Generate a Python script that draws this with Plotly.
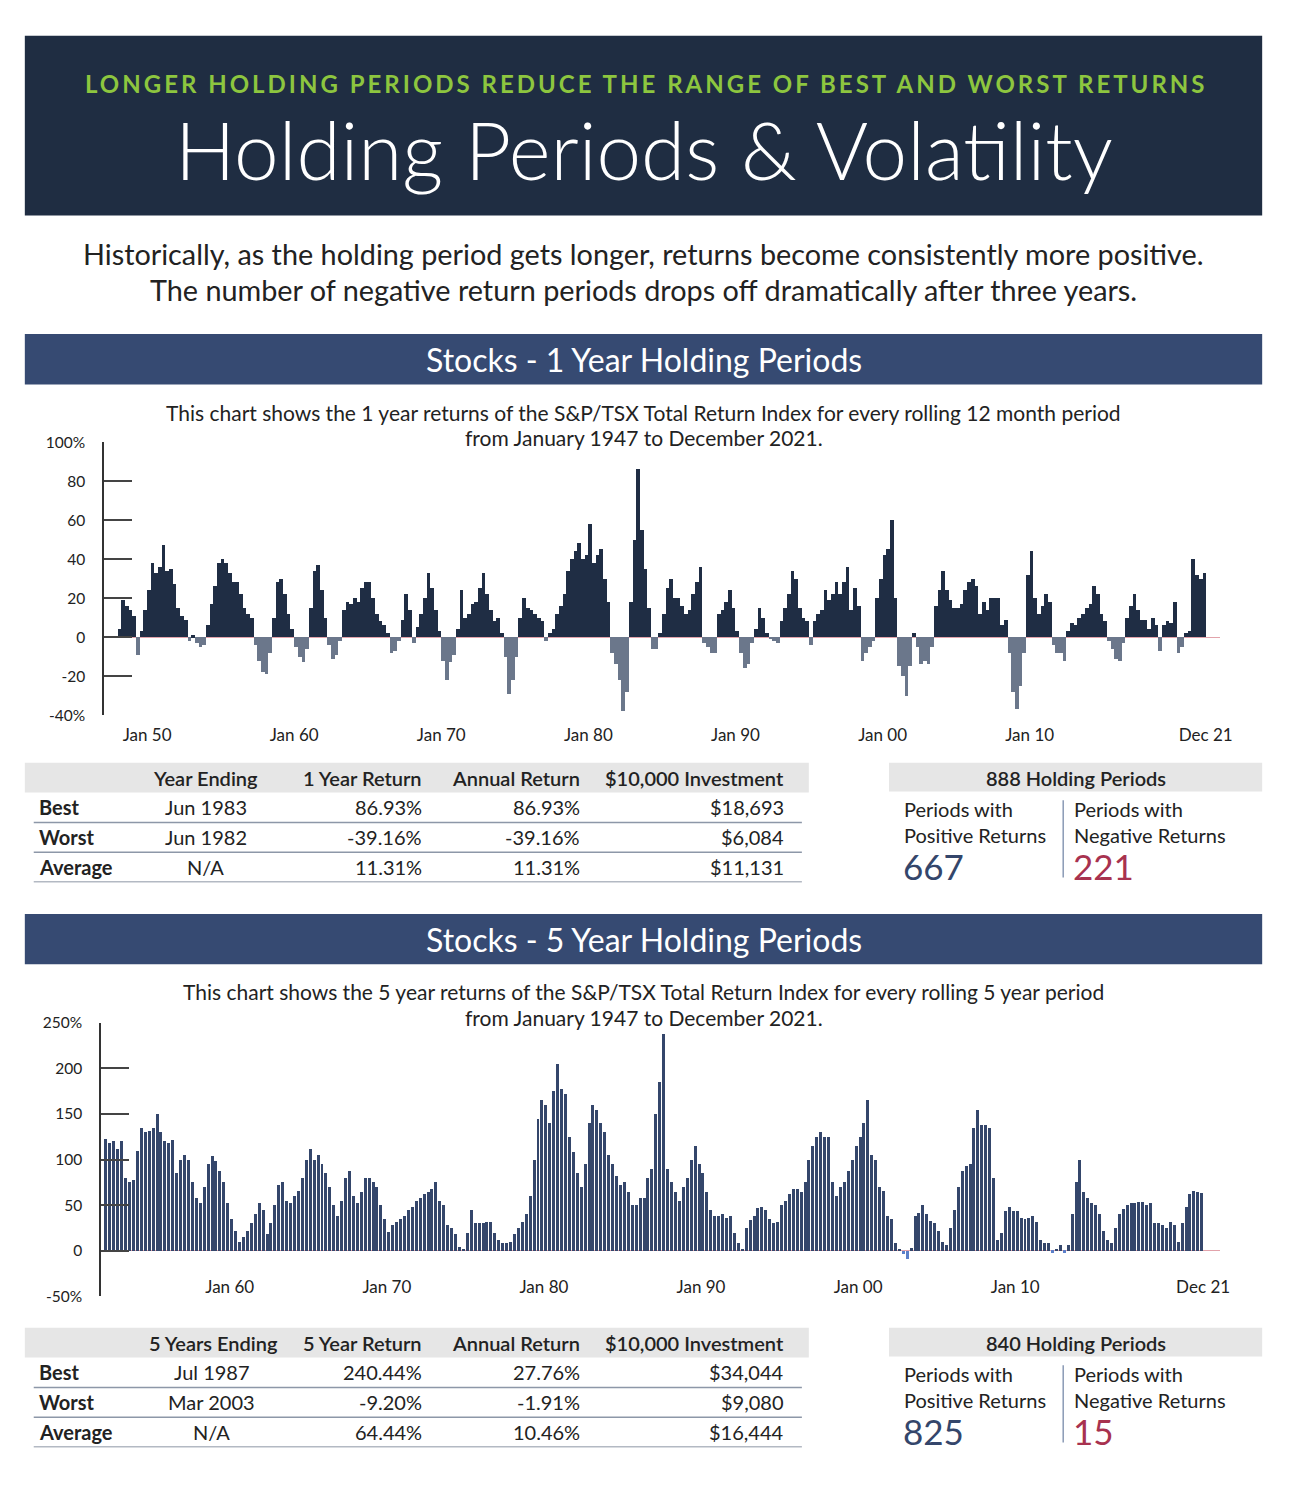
import plotly.graph_objects as go

# page offset (default body margin) and figure size so that the page is 1300x1490
OX, OY = 8, 8
FW, FH = 1284, 1474

# ---------------- data (quarterly readings from the reference) ----------------
first_year_1y = 1948
returns_1y = [
    4, 19, 16, 14,   11, -9, 3, 14,     24, 38, 33, 36,    47, 34, 35, 27,    15, 11, 9, -2,
    1, -3, -5, -4,   6, 17, 26, 38,     40, 38, 33, 28,    28, 22, 15, 12,    10, -4, -12, -18,
    -19, -8, 10, 28, 30, 22, 12, 4,     -5, -10, -13, -6,  15, 34, 37, 24,    10, -4, -11, -9,
    -2, 14, 18, 17,  20, 18, 25, 28,    28, 20, 12, 8,     6, 2, -8, -7,      -2, 9, 22, 14,
    -3, 5, 12, 20,   33, 25, 14, 3,     -12, -22, -13, -9, 4, 24, 10, 12,     17, 18, 25, 33,
    22, 14, 8, 10,   2, -10, -29, -22,  -10, 10, 20, 15,   14, 12, 10, 8,     -2, 2, 4, 12,
    16, 22, 34, 40,  44, 48, 40, 42,    58, 38, 42, 45,    30, 18, -8, -14,   -22, -38, -28, 18,
    50, 86, 55, 35,  15, -6, -6, 2,     12, 25, 30, 20,    20, 16, 12, 14,    22, 28, 36, -3,
    -5, -8, -8, 12,  14, 18, 24, 15,    3, -8, -16, -14,   -3, 4, 15, 10,     2, -1, -2, -3,
    8, 15, 22, 34,   30, 15, 10, 8,     -4, 8, 12, 14,     24, 19, 22, 28,    22, 28, 36, 14,
    25, 16, -12, -8, -5, -2, 20, 30,    42, 45, 60, 20,    -15, -20, -30, -15, 2, -5, -14, -12,
    -14, -5, 16, 24, 34, 24, 19, 15,    15, 17, 24, 28,    30, 26, 12, 18,    14, 20, 20, 20,
    6, 9, -8, -28,   -37, -25, -8, 32,  44, 20, 12, 16,    22, 18, -4, -8,    -8, -12, 3, 7,
    6, 10, 12, 15,   17, 26, 22, 12,    8, -2, -6, -11,    -12, -3, 10, 16,   22, 14, 9, 9,
    4, 10, 6, -7,    6, 8, 7, 18,       -8, -5, 2, 3,      40, 32, 30, 33,
]

first_year_5y = 1952
returns_5y = [
    123, 118, 120, 112,  120, 80, 75, 78,     110, 135, 130, 132,  135, 150, 130, 120,  118, 122, 85, 100,
    105, 100, 75, 58,    52, 70, 95, 104,     98, 88, 75, 52,      35, 22, 10, 15,      22, 30, 40, 52,
    45, 18, 30, 50,      72, 75, 55, 52,      60, 66, 80, 100,     112, 100, 105, 95,   85, 70, 50, 38,
    55, 80, 88, 60,      52, 65, 80, 80,      76, 70, 50, 35,      21, 28, 32, 35,      38, 45, 48, 55,
    58, 62, 65, 68,      75, 55, 50, 28,      25, 18, 4, 2,        19, 45, 30, 30,      30, 32, 32, 20,
    12, 9, 8, 10,        18, 25, 32, 40,      60, 100, 145, 165,   160, 140, 175, 205,  178, 172, 125, 108,
    85, 70, 95, 140,     160, 155, 140, 130,  105, 95, 82, 72,     75, 65, 50, 50,      58, 58, 80, 90,
    150, 185, 238, 90,   75, 65, 55, 70,      80, 100, 115, 95,    85, 65, 45, 38,      38, 40, 36, 38,
    20, 8, 2, 25,        34, 38, 47, 48,      45, 35, 30, 32,      50, 55, 62, 68,      68, 65, 75, 100,
    115, 125, 130, 125,  125, 75, 60, 70,     75, 88, 100, 115,    125, 140, 165, 105,  100, 70, 66, 38,
    35, 8, 1, -4,        -9, 3, 38, 42,       50, 40, 33, 30,      22, 10, 6, 25,       45, 70, 88, 93,
    95, 135, 155, 138,   138, 135, 80, 12,    20, 44, 48, 44,      44, 36, 35, 36,      38, 32, 12, 9,
    8, -2, 2, 6,         -2, 6, 40, 75,       100, 65, 58, 52,     50, 40, 22, 12,      8, 25, 40, 46,
    50, 52, 52, 54,      53, 50, 52, 30,      30, 28, 25, 32,      28, 10, 30, 48,      62, 66, 64, 63,
]

xtick_vals_1y = [1950, 1960, 1970, 1980, 1990, 2000, 2010, 2021.96]
xtick_text_1y = ["Jan 50", "Jan 60", "Jan 70", "Jan 80", "Jan 90", "Jan 00", "Jan 10", "Dec 21"]
ytick_vals_1y = [-40, -20, 0, 20, 40, 60, 80, 100]
ytick_text_1y = ["-40%", "-20", "0", "20", "40", "60", "80", "100%"]

xtick_vals_5y = [1960, 1970, 1980, 1990, 2000, 2010, 2021.96]
xtick_text_5y = ["Jan 60", "Jan 70", "Jan 80", "Jan 90", "Jan 00", "Jan 10", "Dec 21"]
ytick_vals_5y = [-50, 0, 50, 100, 150, 200, 250]
ytick_text_5y = ["-50%", "0", "50", "100", "150", "200", "250%"]

table_rows = ["Best", "Worst", "Average"]
t1_header = ["Year Ending", "1 Year Return", "Annual Return", "$10,000 Investment"]
t1_period = ["Jun 1983", "Jun 1982", "N/A"]
t1_return = ["86.93%", "-39.16%", "11.31%"]
t1_annual = ["86.93%", "-39.16%", "11.31%"]
t1_invest = ["$18,693", "$6,084", "$11,131"]

t2_header = ["5 Years Ending", "5 Year Return", "Annual Return", "$10,000 Investment"]
t2_period = ["Jul 1987", "Mar 2003", "N/A"]
t2_return = ["240.44%", "-9.20%", "64.44%"]
t2_annual = ["27.76%", "-1.91%", "10.46%"]
t2_invest = ["$34,044", "$9,080", "$16,444"]

stats1 = {"total": 888, "positive": 667, "negative": 221}
stats2 = {"total": 840, "positive": 825, "negative": 15}

# ---------------- styling ----------------
FONT = "Lato, 'Open Sans', sans-serif"
NAVY_DARK = "#1f2d42"
NAVY_BAND = "#364a72"
GREEN = "#8dc63f"
TXT = "#222222"
POS1 = "#1f2d44"
NEG1 = "#6b778b"
BAR2 = "#34466b"
NEG2 = "#5b7fc9"
CRIMSON = "#a8324f"
GRAY_BAND = "#e6e6e6"
LINE = "#8d97a8"


def px(x):
    return (x - OX) / FW


def py(y):
    return 1 - (y - OY) / FH


fig = go.Figure()

x1 = [first_year_1y + (i + 0.5) * 0.25 for i in range(len(returns_1y))]
fig.add_trace(go.Bar(
    x=x1, y=returns_1y, width=0.25,
    marker=dict(color=[POS1 if v >= 0 else NEG1 for v in returns_1y], line=dict(width=0)),
    xaxis="x", yaxis="y", hoverinfo="skip", showlegend=False,
))

x2 = [first_year_5y + (i + 0.5) * 0.25 for i in range(len(returns_5y))]
fig.add_trace(go.Bar(
    x=x2, y=returns_5y, width=0.19,
    marker=dict(color=[BAR2 if v >= 0 else NEG2 for v in returns_5y], line=dict(width=0)),
    xaxis="x2", yaxis="y2", hoverinfo="skip", showlegend=False,
))

shapes = []
annotations = []


def rect(x0, y0, x1_, y1_, color):
    shapes.append(dict(type="rect", xref="paper", yref="paper",
                       x0=px(x0), x1=px(x1_), y0=py(y1_), y1=py(y0),
                       fillcolor=color, line=dict(width=0), layer="below"))


def hline(x0, x1_, y, color=LINE, width=1.5):
    shapes.append(dict(type="line", xref="paper", yref="paper",
                       x0=px(x0), x1=px(x1_), y0=py(y), y1=py(y),
                       line=dict(color=color, width=width), layer="below"))


def vline(x, y0, y1_, color="#8a9ab5", width=1.5):
    shapes.append(dict(type="line", xref="paper", yref="paper",
                       x0=px(x), x1=px(x), y0=py(y0), y1=py(y1_),
                       line=dict(color=color, width=width), layer="below"))


def text(x, y, s, size=18, color=TXT, anchor="center", weight=400, valign="middle"):
    annotations.append(dict(xref="paper", yref="paper", x=px(x), y=py(y), text=s,
                            showarrow=False, xanchor=anchor, yanchor=valign,
                            align=anchor if anchor != "center" else "center",
                            font=dict(family=FONT, size=size, color=color, weight=weight)))


# header
rect(25, 26, 1275, 208, NAVY_DARK)
text(653, 74, '<span style="letter-spacing:3.0px">LONGER HOLDING PERIODS REDUCE THE RANGE OF BEST AND WORST RETURNS</span>',
     size=24, color=GREEN, weight=700)
text(650, 141, "Holding Periods &amp; Volatility", size=80, color="#ffffff", weight=300)

text(650, 247, "Historically, as the holding period gets longer, returns become consistently more positive.", size=28.8)
text(650, 283, "The number of negative return periods drops off dramatically after three years.", size=28.8)


def section(y_top, title, cap1, cap2):
    rect(25, y_top, 1275, y_top + 51, NAVY_BAND)
    text(650, y_top + 26, title, size=32, color="#ffffff")
    text(650, y_top + 79, cap1, size=21)
    text(650, y_top + 105, cap2, size=21)


section(328, "Stocks - 1 Year Holding Periods",
        "This chart shows the 1 year returns of the S&P/TSX Total Return Index for every rolling 12 month period",
        "from January 1947 to December 2021.")
section(915, "Stocks - 5 Year Holding Periods",
        "This chart shows the 5 year returns of the S&P/TSX Total Return Index for every rolling 5 year period",
        "from January 1947 to December 2021.")

FS = 20


def table(y_head, header, period, ret, ann, inv):
    rect(25, y_head - 15, 817, y_head + 15, GRAY_BAND)
    c1 = 208 if header[0] == "Year Ending" else 216
    text(c1, y_head, header[0], size=FS, weight=600)
    text(428, y_head, header[1], size=FS, weight=600, anchor="right")
    text(588, y_head, header[2], size=FS, weight=600, anchor="right")
    text(794, y_head, header[3], size=FS, weight=600, anchor="right")
    for i, lab in enumerate(table_rows):
        yy = y_head + 30 * (i + 1)
        text(37, yy, lab, size=FS, weight=700, anchor="left")
        text(208 if header[0] == "Year Ending" else 214, yy, period[i], size=FS)
        text(428, yy, ret[i], size=FS, anchor="right")
        text(588, yy, ann[i], size=FS, anchor="right")
        text(794, yy, inv[i], size=FS, anchor="right")
        hline(34, 810, yy + 15.5, color=LINE if i < 2 else "#b3b9c3", width=1.5)


table(777, t1_header, t1_period, t1_return, t1_annual, t1_invest)
table(1349, t2_header, t2_period, t2_return, t2_annual, t2_invest)


def stats(y_head, st):
    rect(898, y_head - 15, 1275, y_head + 14, GRAY_BAND)
    text(1087, y_head, f"{st['total']} Holding Periods", size=FS, weight=600)
    text(911, y_head + 45, "Periods with<br>Positive Returns", size=FS, anchor="left")
    text(1083, y_head + 45, "Periods with<br>Negative Returns", size=FS, anchor="left")
    text(910, y_head + 89, str(st["positive"]), size=35, color=BAR2, anchor="left")
    text(1082, y_head + 89, str(st["negative"]), size=35, color=CRIMSON, anchor="left")
    vline(1074, y_head + 23, y_head + 101)


stats(777, stats1)
stats(1349, stats2)

tickfont = dict(family=FONT, size=15.5, color=TXT)
xfont = dict(family=FONT, size=17, color=TXT)

fig.update_layout(
    width=FW, height=FH,
    margin=dict(l=0, r=0, t=0, b=0),
    paper_bgcolor="#ffffff", plot_bgcolor="rgba(0,0,0,0)",
    font=dict(family=FONT, color=TXT),
    bargap=0,
    shapes=shapes, annotations=annotations,
    xaxis=dict(domain=[px(105), px(1232)], range=[1947.073, 2022.91], anchor="free", position=py(722),
               showline=False, ticks="", showgrid=False, zeroline=False,
               tickmode="array", tickvals=xtick_vals_1y, ticktext=xtick_text_1y, tickfont=xfont),
    yaxis=dict(domain=[py(714), py(437.5)], range=[-40, 100], anchor="x",
               showline=True, linecolor="#333333", linewidth=1.5,
               ticks="inside", ticklen=28, tickwidth=1.5, tickcolor="#444444",
               tickmode="array", tickvals=ytick_vals_1y, ticktext=ytick_text_1y,
               tickfont=tickfont, ticklabelstandoff=14, showgrid=False,
               zeroline=True, zerolinecolor="#e2a3ab", zerolinewidth=1),
    xaxis2=dict(domain=[px(102), px(1232)], range=[1951.808, 2023.01], anchor="free", position=py(1281),
                showline=False, ticks="", showgrid=False, zeroline=False,
                tickmode="array", tickvals=xtick_vals_5y, ticktext=xtick_text_5y, tickfont=xfont),
    yaxis2=dict(domain=[py(1302), py(1025.3)], range=[-50, 250], anchor="x2",
                showline=True, linecolor="#333333", linewidth=1.5,
                ticks="inside", ticklen=28, tickwidth=1.5, tickcolor="#444444",
                tickmode="array", tickvals=ytick_vals_5y, ticktext=ytick_text_5y,
                tickfont=tickfont, ticklabelstandoff=14, showgrid=False,
                zeroline=True, zerolinecolor="#e2a3ab", zerolinewidth=1),
)

fig.write_html("out.html", config={"displayModeBar": False})
